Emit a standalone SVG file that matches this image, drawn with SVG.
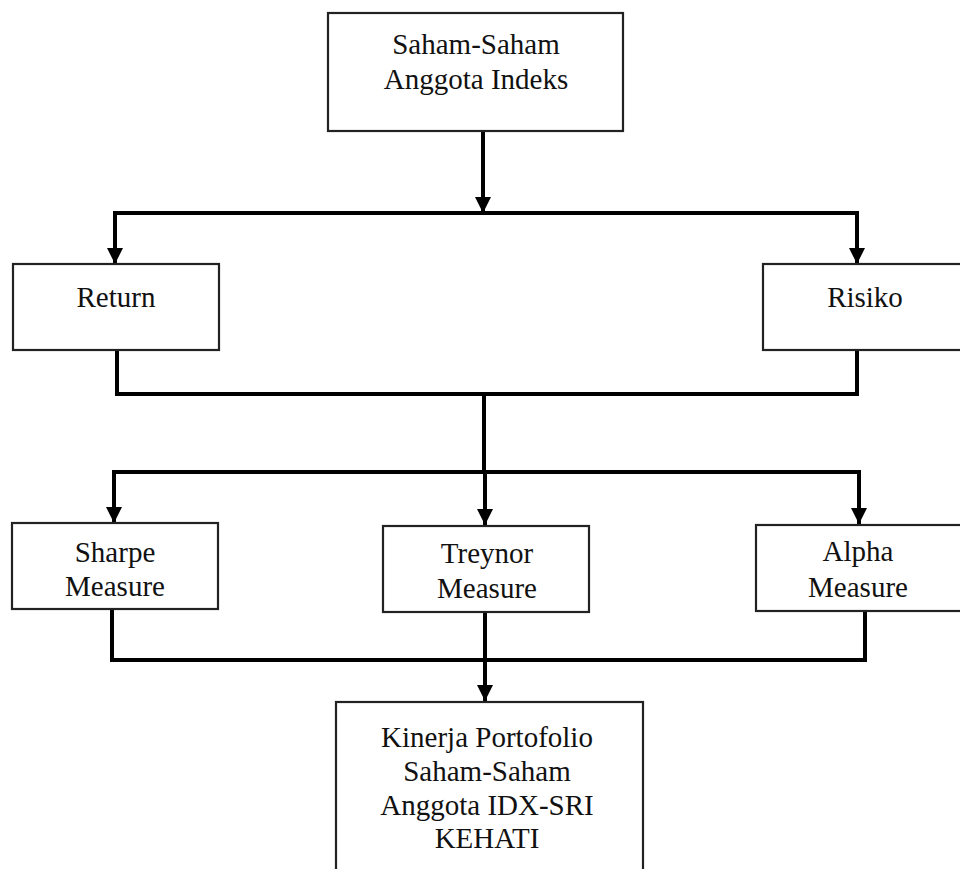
<svg xmlns="http://www.w3.org/2000/svg" width="960" height="869" viewBox="0 0 960 869">
<defs>
<marker id="ah" markerUnits="userSpaceOnUse" markerWidth="16" markerHeight="16" viewBox="0 0 16 16" refX="16" refY="8" orient="auto">
<path d="M0,0 L16,8 L0,16 Z" fill="#000"/>
</marker>
<style>
.box{fill:#fff;stroke:#222;stroke-width:2.2}
.t{font-family:"Liberation Serif","Times New Roman",serif;font-size:29px;fill:#111;text-anchor:middle}
.c{fill:none;stroke:#000;stroke-width:4;stroke-linejoin:miter}
.a{fill:none;stroke:#000;stroke-width:4}
</style>
</defs>
<rect width="960" height="869" fill="#fff"/>
<g id="connectors">
<path class="a" d="M483,131 V213" marker-end="url(#ah)"/>
<path class="c" d="M115,250 V213 H857 V250"/>
<path class="a" d="M115,213 V264" marker-end="url(#ah)"/>
<path class="a" d="M857,213 V264" marker-end="url(#ah)"/>
<path class="c" d="M117,350 V394 H857 V350"/>
<path class="c" d="M484,394 V472"/>
<path class="c" d="M114,510 V472 H859 V510"/>
<path class="a" d="M114,472 V523" marker-end="url(#ah)"/>
<path class="a" d="M485,472 V525" marker-end="url(#ah)"/>
<path class="a" d="M859,472 V524" marker-end="url(#ah)"/>
<path class="c" d="M112,609 V660 H865 V611"/>
<path class="c" d="M485,612 V660"/>
<path class="a" d="M485,660 V701" marker-end="url(#ah)"/>
</g>
<g id="node-top">
<rect class="box" x="328" y="13" width="295" height="118"/>
<text class="t" x="476" y="54">Saham-Saham</text>
<text class="t" x="476" y="89">Anggota Indeks</text>
</g>
<g id="node-return">
<rect class="box" x="13" y="264" width="206" height="86"/>
<text class="t" x="116" y="307">Return</text>
</g>
<g id="node-risiko">
<rect class="box" x="763" y="264" width="200" height="86"/>
<text class="t" x="865" y="307">Risiko</text>
</g>
<g id="node-sharpe">
<rect class="box" x="12" y="523" width="206" height="86"/>
<text class="t" x="115" y="562">Sharpe</text>
<text class="t" x="115" y="596">Measure</text>
</g>
<g id="node-treynor">
<rect class="box" x="383" y="526" width="206" height="86"/>
<text class="t" x="487" y="563">Treynor</text>
<text class="t" x="487" y="598">Measure</text>
</g>
<g id="node-alpha">
<rect class="box" x="756" y="525" width="206" height="86"/>
<text class="t" x="858" y="561">Alpha</text>
<text class="t" x="858" y="597">Measure</text>
</g>
<g id="node-kinerja">
<rect class="box" x="336" y="702" width="307" height="180"/>
<text class="t" x="487" y="747">Kinerja Portofolio</text>
<text class="t" x="487" y="781">Saham-Saham</text>
<text class="t" x="487" y="815">Anggota IDX-SRI</text>
<text class="t" x="487" y="848">KEHATI</text>
</g>
</svg>
